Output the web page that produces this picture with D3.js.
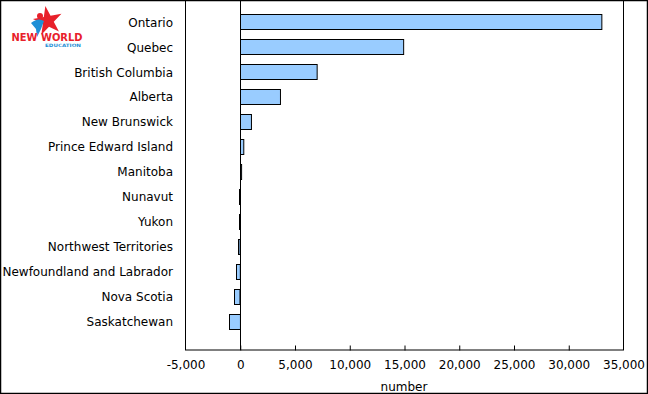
<!DOCTYPE html>
<html>
<head>
<meta charset="utf-8">
<script src="https://cdn.jsdelivr.net/npm/d3@7"></script>
<style>
  body { margin: 0; background: #fff; }
  svg { display: block; }
</style>
</head>
<body>
<script>
// provinces and territories, top to bottom
var provinces = ["Ontario", "Quebec", "British Columbia", "Alberta", "New Brunswick",
  "Prince Edward Island", "Manitoba", "Nunavut", "Yukon", "Northwest Territories",
  "Newfoundland and Labrador", "Nova Scotia", "Saskatchewan"];
var values = [33000, 14900, 7000, 3650, 1000, 300, 100, -50, -50, -150, -350, -500, -1000];
var xTicks = [-5000, 0, 5000, 10000, 15000, 20000, 25000, 30000, 35000];

var svgWidth = 648, svgHeight = 394;
var svg = d3.select("body").append("svg")
  .attr("width", svgWidth)
  .attr("height", svgHeight);

var plot = { left: 185, right: 623, top: 1, bottom: 350 };

var xScale = d3.scaleLinear()
  .domain([-5000, 35000])
  .range([plot.left, plot.right]);

var yScale = d3.scaleBand()
  .domain(provinces)
  .range([9.5, 333.5])
  .paddingInner(0.4)
  .paddingOuter(0.2);

var font = "Verdana, 'DejaVu Sans', sans-serif";

// outer border
svg.append("rect")
  .attr("x", 0.5).attr("y", 0.5)
  .attr("width", svgWidth - 1).attr("height", svgHeight - 1)
  .attr("fill", "none").attr("stroke", "#000").attr("stroke-width", 1.5);

// bars
svg.selectAll("rect.bar")
  .data(values)
  .enter()
  .append("rect")
  .attr("class", "bar")
  .attr("x", d => Math.round(xScale(Math.min(0, d))) + 0.5)
  .attr("y", (d, i) => Math.round(yScale(provinces[i])) + 0.5)
  .attr("width", d => Math.max(0.5, Math.abs(xScale(d) - xScale(0))))
  .attr("height", Math.round(yScale.bandwidth()))
  .attr("fill", "#99ccff")
  .attr("stroke", "#000")
  .attr("stroke-width", 1);

// zero line
svg.append("line")
  .attr("x1", Math.round(xScale(0)) + 0.5).attr("x2", Math.round(xScale(0)) + 0.5)
  .attr("y1", plot.top).attr("y2", plot.bottom)
  .attr("stroke", "#000");

// plot frame
svg.append("rect")
  .attr("x", plot.left + 0.5).attr("y", plot.top - 0.5)
  .attr("width", plot.right - plot.left).attr("height", plot.bottom - plot.top + 0.5)
  .attr("fill", "none").attr("stroke", "#000");

// x axis: inward ticks, labels below, plain hyphen for minus
var fmt = d3.format(",");
var xAxis = d3.axisBottom(xScale)
  .tickValues(xTicks)
  .tickSizeInner(-5)
  .tickSizeOuter(0)
  .tickPadding(10)
  .tickFormat(d => fmt(d).replace("\u2212", "-"));

var gx = svg.append("g")
  .attr("transform", `translate(0.5, ${plot.bottom + 0.5})`)
  .call(xAxis);
gx.select(".domain").remove();
gx.selectAll(".tick line")
  .filter(d => d === -5000 || d === 35000)
  .remove();
gx.selectAll("text")
  .attr("font-family", font)
  .attr("font-size", 12)
  .attr("fill", "#000");

svg.append("text")
  .attr("x", (plot.left + plot.right) / 2)
  .attr("y", 391)
  .attr("text-anchor", "middle")
  .attr("font-family", font)
  .attr("font-size", 12)
  .text("number");

// category labels
svg.selectAll("text.cat")
  .data(provinces)
  .enter()
  .append("text")
  .attr("class", "cat")
  .attr("x", 173)
  .attr("y", d => yScale(d) + yScale.bandwidth() / 2 + 0.5)
  .attr("dy", "0.35em")
  .attr("text-anchor", "end")
  .attr("font-family", font)
  .attr("font-size", 12)
  .text(d => d);

// logo
var logo = svg.append("g").attr("transform", "translate(10, 8)");
logo.append("path")
  .attr("d", d3.symbol(d3.symbolStar, 260)())
  .attr("transform", "translate(38, 13) rotate(-10)")
  .attr("fill", "#e8202a");
logo.append("circle")
  .attr("cx", 30).attr("cy", 8).attr("r", 3)
  .attr("fill", "#e8202a");
logo.append("path")
  .attr("d", "M21,15 Q28,9 34,13 L31,21 L27,29 L26,21 Z")
  .attr("fill", "#1e8fd6");
logo.append("text")
  .attr("x", 37).attr("y", 33)
  .attr("text-anchor", "middle")
  .attr("font-family", "'DejaVu Sans', sans-serif")
  .attr("font-weight", "bold")
  .attr("font-size", 11)
  .attr("textLength", 71)
  .attr("lengthAdjust", "spacingAndGlyphs")
  .attr("fill", "#e8202a")
  .text("NEW WORLD");
logo.append("text")
  .attr("x", 53).attr("y", 39)
  .attr("text-anchor", "middle")
  .attr("font-family", "'DejaVu Sans', sans-serif")
  .attr("font-weight", "bold")
  .attr("font-size", 4.5)
  .attr("textLength", 36)
  .attr("lengthAdjust", "spacingAndGlyphs")
  .attr("fill", "#1e8fd6")
  .text("EDUCATION");
</script>
</body>
</html>
